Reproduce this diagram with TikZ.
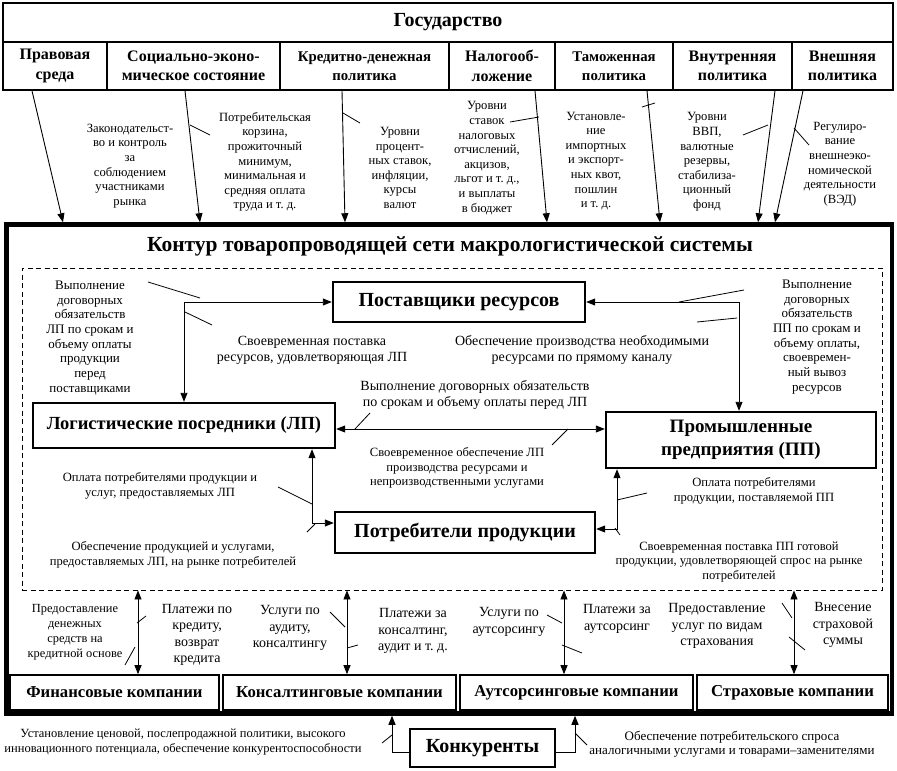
\documentclass[tikz,border=0pt]{standalone}
\usepackage{fontspec}
\setmainfont{Liberation Serif}
\usetikzlibrary{arrows.meta}
\newcommand\myfs[2]{\fontsize{#1}{#2}\selectfont}
\tikzset{
  gov/.style={draw,line width=1.6pt,inner sep=0pt,font=\myfs{20}{24}\bfseries},
  sub/.style={draw,line width=1.6pt,inner sep=0pt,align=center,minimum height=48pt,font=\myfs{16}{19.5}\bfseries},
  subs/.style={sub,font=\myfs{14.8}{18.5}\bfseries},
  bx/.style={draw,line width=2.4pt,inner sep=0pt,align=center,font=\myfs{20}{23}\bfseries},
  co/.style={draw,line width=1.6pt,inner sep=0pt,align=center,minimum height=35pt,font=\myfs{16.7}{19}\bfseries},
  lbl/.style={inner sep=0pt,align=center,font=\myfs{12.6}{14.6}},
  lblm/.style={inner sep=0pt,align=center,font=\myfs{14}{16}},
  lblb/.style={inner sep=0pt,align=center,font=\myfs{14}{16.5}},
  tip/.tip={Triangle[length=9pt,width=7pt]},
  ar/.style={line width=0.9pt,-tip},
  dar/.style={line width=0.9pt,tip-tip},
  ld/.style={line width=0.8pt}
}
\begin{document}
\begin{tikzpicture}[x=1pt,y=-1pt]
\useasboundingbox (0,0) rectangle (897,771);
% State
\node[gov,minimum width=890pt,minimum height=39pt] (gos) at (448,22.5) {Государство};
\node[sub,minimum width=104pt] (pr) at (55,66) {Правовая\\среда};
\node[sub,minimum width=173pt] (soc) at (193.5,66) {Социально-эконо-\\мическое состояние};
\node[subs,minimum width=169pt] (kred) at (364.5,66) {Кредитно-денежная\\политика};
\node[sub,minimum width=106pt] (nal) at (502,66) {Налогооб-\\ложение};
\node[subs,minimum width=118pt] (tam) at (614,66) {Таможенная\\политика};
\node[sub,minimum width=119pt] (vnu) at (732.5,66) {Внутренняя\\политика};
\node[sub,minimum width=101pt] (vne) at (842.5,66) {Внешняя\\политика};
% main contour
\node[draw,line width=4.5pt,minimum width=885.5pt,minimum height=489pt,inner sep=0pt] (main) at (449.25,469) {};
\node[inner sep=0pt,font=\myfs{21.5}{25}\bfseries] (title) at (450,246) {Контур товаропроводящей сети макрологистической системы};
\node[draw,line width=0.9pt,dash pattern=on 5pt off 3.5pt,minimum width=860pt,minimum height=322pt,inner sep=0pt] (net) at (452,429) {};
% top labels
\node[lbl] (l1) at (130,166) {Законодательст-\\во и контроль\\за\\соблюдением\\участниками\\рынка};
\node[lbl] (l2) at (265,162) {Потребительская\\корзина,\\прожиточный\\минимум,\\минимальная и\\средняя оплата\\труда и т.~д.};
\node[lbl] (l3) at (400,168) {Уровни\\процент-\\ных ставок,\\инфляции,\\курсы\\валют};
\node[lbl] (l4) at (487,158) {Уровни\\ставок\\налоговых\\отчислений,\\акцизов,\\льгот и т.~д.,\\и выплаты\\в бюджет};
\node[lbl] (l5) at (596,161) {Установле-\\ние\\импортных\\и экспорт-\\ных квот,\\пошлин\\и т.~д.};
\node[lbl] (l6) at (707,162) {Уровни\\ВВП,\\валютные\\резервы,\\стабилиза-\\ционный\\фонд};
\node[lbl] (l7) at (840,164) {Регулиро-\\вание\\внешнеэко-\\номической\\деятельности\\(ВЭД)};
% top arrows
\draw[ar] (pr.south -| 32,0) -- (main.north -| 63,0);
\draw[ar] (soc.south -| 185,0) -- (main.north -| 200,0);
\draw[ar] (kred.south -| 342,0) -- (main.north -| 345,0);
\draw[ar] (nal.south -| 535,0) -- (main.north -| 547,0);
\draw[ar] (tam.south -| 647,0) -- (main.north -| 660,0);
\draw[ar] (vnu.south -| 775,0) -- (main.north -| 758,0);
\draw[ar] (vne.south -| 803,0) -- (main.north -| 775,0);
\draw[ld] (190,125) -- (210,135);
\draw[ld] (343,113) -- (360,123);
\draw[ld] (510,122) -- (539,117);
\draw[ld] (642,107) -- (655,103);
\draw[ld] (743,135) -- (768,125);
\draw[ld] (794,128) -- (809,145);
% inner boxes
\node[bx,minimum width=252pt,minimum height=40pt] (sup) at (459,302) {Поставщики ресурсов};
\node[bx,minimum width=302pt,minimum height=45pt,font=\myfs{18.5}{21}\bfseries] (lp) at (184,425.5) {Логистические посредники (ЛП)};
\node[bx,minimum width=270pt,minimum height=56pt,font=\myfs{19}{23}\bfseries] (pp) at (741,440) {Промышленные\\предприятия (ПП)};
\node[bx,minimum width=260pt,minimum height=41pt] (cons) at (465,532.5) {Потребители продукции};
% inner arrows
\draw[dar] (lp.north) |- (sup.west);
\draw[dar] (pp.north -| 739,0) |- (sup.east);
\draw[dar] ([yshift=-3.5pt]lp.east) -- ([yshift=-3.5pt]lp.east -| pp.west);
\draw[dar] (lp.south -| 312,0) |- ([yshift=9.5pt]cons.west);
\draw[dar] (pp.south -| 617,0) |- ([yshift=3.5pt]cons.east);
\draw[ld] (148,282) -- (200,298);
\draw[ld] (185,312) -- (212,325);
\draw[ld] (744,290) -- (679,302);
\draw[ld] (697,322) -- (737,318);
\draw[ld] (355,429) -- (370,413);
\draw[ld] (568,429) -- (552,445);
\draw[ld] (278,487) -- (312,504);
\draw[ld] (307,532) -- (315,524);
\draw[ld] (617,500) -- (647,493);
\draw[ld] (615,528) -- (620,535);
% inner labels
\node[lbl,font=\myfs{13}{14.7}] (l8) at (90,338) {Выполнение\\договорных\\обязательств\\ЛП по срокам и\\объему оплаты\\продукции\\перед\\поставщиками};
\node[lblm] (l9) at (312,350) {Своевременная поставка\\ресурсов, удовлетворяющая ЛП};
\node[lblm] (l10) at (582,350) {Обеспечение производства необходимыми\\ресурсами по прямому каналу};
\node[lbl,font=\myfs{13}{14.7}] (l11) at (817,337) {Выполнение\\договорных\\обязательств\\ПП по срокам и\\объему оплаты,\\своевремен-\\ный вывоз\\ресурсов};
\node[lblm] (l12) at (475,395) {Выполнение договорных обязательств\\по срокам и объему оплаты перед ЛП};
\node[lbl] (l13) at (457,468) {Своевременное обеспечение ЛП\\производства ресурсами и\\непроизводственными услугами};
\node[lbl] (l14) at (160,486) {Оплата потребителями продукции и\\услуг, предоставляемых ЛП};
\node[lbl] (l15) at (173,555) {Обеспечение продукцией и услугами,\\предоставляемых ЛП, на рынке потребителей};
\node[lbl] (l16) at (754,491) {Оплата потребителями\\продукции, поставляемой ПП};
\node[lbl] (l17) at (739,562) {Своевременная поставка ПП готовой\\продукции, удовлетворяющей спрос на рынке\\потребителей};
% companies
\node[co,minimum width=209pt] (fin) at (114.5,692.5) {Финансовые компании};
\node[co,minimum width=233pt] (kon) at (339.5,692.5) {Консалтинговые компании};
\node[co,minimum width=233pt] (aut) at (576.5,692.5) {Аутсорсинговые компании};
\node[co,minimum width=191pt] (str) at (792.5,692.5) {Страховые компании};
\draw[dar] (fin.north -| 138,0) -- (net.south -| 138,0);
\draw[dar] (kon.north -| 347,0) -- (net.south -| 347,0);
\draw[dar] (aut.north -| 564,0) -- (net.south -| 564,0);
\draw[dar] (str.north -| 794,0) -- (net.south -| 794,0);
\draw[ld] (137,623) -- (146,616);
\draw[ld] (125,665) -- (135,647);
\draw[ld] (330,612) -- (345,627);
\draw[ld] (347,648) -- (358,645);
\draw[ld] (547,615) -- (562,623);
\draw[ld] (562,645) -- (582,653);
\draw[ld] (782,603) -- (792,618);
\draw[ld] (789,637) -- (805,650);
\node[lbl,font=\myfs{12.4}{15}] (l18) at (75,632) {Предоставление\\денежных\\средств на\\кредитной основе};
\node[lblb] (l19) at (197,635) {Платежи по\\кредиту,\\возврат\\кредита};
\node[lblb] (l20) at (290,628) {Услуги по\\аудиту,\\консалтингу};
\node[lblb] (l21) at (413,631) {Платежи за\\консалтинг,\\аудит и т.~д.};
\node[lblb] (l22) at (509,622) {Услуги по\\аутсорсингу};
\node[lblb] (l23) at (617,619) {Платежи за\\аутсорсинг};
\node[lblb] (l24) at (717,626) {Предоставление\\услуг по видам\\страхования};
\node[lblb] (l25) at (843,625) {Внесение\\страховой\\суммы};
% competitors
\node[draw,line width=2.4pt,inner sep=0pt,minimum width=145pt,minimum height=38pt,font=\myfs{20}{24}\bfseries] (konk) at (482.5,748) {Конкуренты};
\coordinate (cl) at (392,752);
\coordinate (cr) at (575,752);
\draw[ar] (konk.west |- cl) -- (cl) -- (cl |- main.south);
\draw[ar] (konk.east |- cr) -- (cr) -- (cr |- main.south);
\draw[ld] (382,743) -- (392,735);
\draw[ld] (575,733) -- (587,745);
\node[lbl,font=\myfs{12.5}{14.5}] (l26) at (183,742) {Установление ценовой, послепродажной политики, высокого\\инновационного потенциала, обеспечение конкурентоспособности};
\node[lbl,font=\myfs{13}{14}] (l27) at (732,744) {Обеспечение потребительского спроса\\аналогичными услугами и товарами–заменителями};
\end{tikzpicture}
\end{document}
